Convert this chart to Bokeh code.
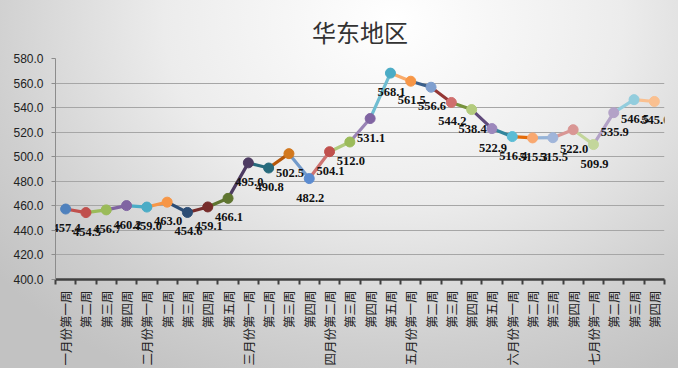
from bokeh.plotting import figure
from bokeh.models import FixedTicker, NumeralTickFormatter, ColumnDataSource, Range1d, LabelSet
from bokeh.embed import file_html
from bokeh.resources import INLINE

title_text = "华东地区"

categories = [
    "一月份第一周", "第二周", "第三周", "第四周",
    "二月份第一周", "第二周", "第三周", "第四周", "第五周",
    "三月份第一周", "第二周", "第三周", "第四周",
    "四月份第二周", "第三周", "第四周", "第五周",
    "五月份第一周", "第二周", "第三周", "第四周", "第五周",
    "六月份第一周", "第二周", "第三周", "第四周",
    "七月份第一周", "第二周", "第三周", "第四周",
]

values = [
    457.4, 454.5, 456.7, 460.2,
    459.0, 463.0, 454.6, 459.1, 466.1,
    495.0, 490.8, 502.5, 482.2,
    504.1, 512.0, 531.1, 568.1,
    561.5, 556.6, 544.2, 538.4, 522.9,
    516.4, 515.3, 515.5, 522.0,
    509.9, 535.9, 546.5, 545.0,
]

line_colors = [
    "#4F81BD", "#C0504D", "#9BBB59", "#8064A2", "#4BACC6", "#F79646",
    "#2C4D75", "#772C2A", "#5F7530", "#4D3B62", "#276A7C", "#B65708",
    "#729ACA", "#CD7371", "#AFC97A", "#9983B5", "#6FBDD1", "#F9AB6B",
    "#3A5F8B", "#953735", "#77933C", "#604A7B", "#31859C", "#E46C0A",
    "#95B3D7", "#D99694", "#C3D69B", "#B3A2C7", "#93CDDD", "#FAC090",
]

marker_colors = [
    "#4F81BD", "#C0504D", "#9BBB59", "#8064A2", "#4BACC6", "#F79646",
    "#2C4D75", "#772C2A", "#5F7530", "#4D3B62", "#276A7C", "#D2781E",
    "#5B8BD0", "#C0504D", "#9BBB59", "#8064A2", "#4BACC6", "#F79646",
    "#7F9FCF", "#D06F6E", "#B3CB7D", "#9C88BC", "#5BBCD5", "#F9A86F",
    "#A0B5DA", "#D99694", "#C3D69B", "#B3A2C7", "#93CDDD", "#FAC090",
]

y_ticks = [400, 420, 440, 460, 480, 500, 520, 540, 560, 580]

n = len(values)
xs = list(range(n))
labels_txt = ["%.1f" % v for v in values]

p = figure(width=678, height=368, output_backend="svg", toolbar_location=None,
           x_range=Range1d(-0.5, n - 0.5), y_range=Range1d(y_ticks[0], y_ticks[-1]),
           min_border_left=55, min_border_right=14, min_border_top=58, min_border_bottom=88)

p.styles = {"background": "radial-gradient(ellipse 75% 110% at 58% 6%, #ffffff 0%, #ececec 45%, #cfcfcf 80%, #c2c2c2 100%)"}
p.border_fill_color = None
p.background_fill_color = None
p.outline_line_color = None

p.title.text = title_text
p.title.align = "center"
p.title.text_font = "Noto Sans CJK SC"
p.title.text_font_size = "24px"
p.title.text_font_style = "normal"
p.title.text_color = "#333333"
p.title.standoff = 20

# segments, each coloured like the point it leads to
seg = ColumnDataSource(dict(x0=xs[:-1], y0=values[:-1], x1=xs[1:], y1=values[1:],
                            c=line_colors[1:]))
p.segment(x0="x0", y0="y0", x1="x1", y1="y1", line_color="c", line_width=3.2,
          line_cap="round", source=seg)

pts = ColumnDataSource(dict(x=xs, y=values, c=marker_colors, t=labels_txt))
p.scatter(x="x", y="y", size=10, fill_color="c", line_color="c", source=pts)
labels = LabelSet(x="x", y="y", text="t", source=pts, text_align="center",
                  text_baseline="middle", y_offset=-19, x_offset=1,
                  text_font="Liberation Sans", text_font_size="12.5px",
                  text_font_style="bold", text_color="#111111")
p.add_layout(labels)

# axes
p.xaxis.ticker = FixedTicker(ticks=xs, minor_ticks=[i - 0.5 for i in range(n + 1)])
p.xaxis.major_label_overrides = {i: c for i, c in enumerate(categories)}
p.xaxis.major_label_orientation = 1.5708
p.xaxis.major_label_text_font = "Noto Sans CJK SC"
p.xaxis.major_label_text_font_size = "12.5px"
p.xaxis.major_label_text_color = "#222222"
p.xaxis.major_tick_out = 0
p.xaxis.major_tick_in = 0
p.xaxis.minor_tick_out = 5
p.xaxis.minor_tick_in = 0
p.xaxis.minor_tick_line_color = "#404040"
p.xaxis.minor_tick_line_width = 2
p.xaxis.axis_line_color = "#404040"
p.xaxis.axis_line_width = 2.5
p.xaxis.major_label_standoff = 6

p.yaxis.ticker = FixedTicker(ticks=y_ticks)
p.yaxis.formatter = NumeralTickFormatter(format="0.0")
p.yaxis.major_label_text_font = "Liberation Sans"
p.yaxis.major_label_text_font_size = "12px"
p.yaxis.major_label_text_color = "#222222"
p.yaxis.axis_line_color = "#8C8C8C"
p.yaxis.major_tick_out = 4
p.yaxis.major_tick_in = 0
p.yaxis.major_tick_line_color = "#8C8C8C"
p.yaxis.minor_tick_out = 0
p.yaxis.minor_tick_in = 0
p.yaxis.major_label_standoff = 8

p.xgrid.visible = False
p.ygrid.grid_line_color = "#A6A6A6"
p.ygrid.grid_line_width = 1

open("out.html", "w").write(file_html(p, INLINE))
